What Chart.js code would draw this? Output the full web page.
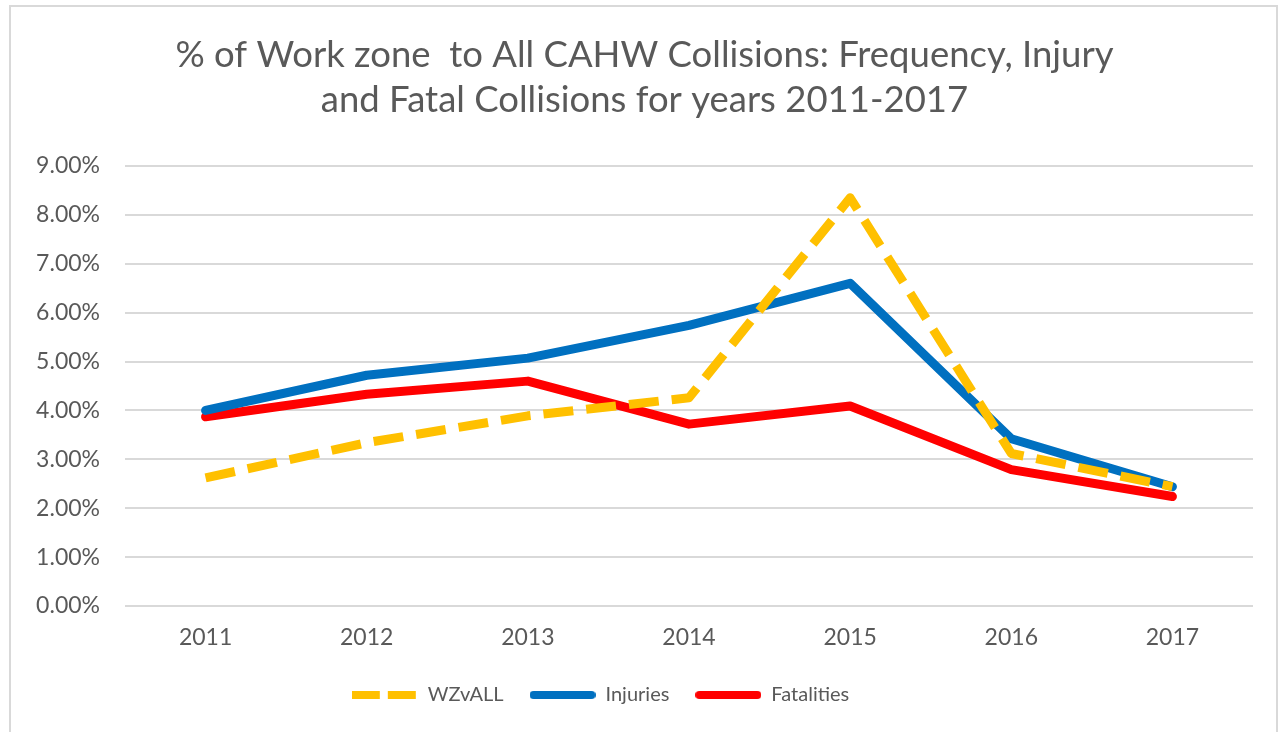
<!DOCTYPE html>
<html>
<head>
<meta charset="utf-8">
<script src="https://cdn.jsdelivr.net/npm/chart.js@4"></script>
<style>
  html, body { margin: 0; padding: 0; background: #fff; overflow: hidden; }
  #wrap { position: relative; width: 1278px; height: 732px; }
  #frame {
    position: absolute; left: 9px; top: 5px; width: 1269px; height: 760px;
    box-sizing: border-box; border: 2px solid #d9d9d9; border-bottom: none;
    pointer-events: none;
  }
</style>
</head>
<body>
<div id="wrap">
  <canvas id="chart" width="1278" height="732"></canvas>
  <div id="frame"></div>
</div>
<script>
const YEARS = ['2011', '2012', '2013', '2014', '2015', '2016', '2017'];
const WZ_V_ALL = [2.62, 3.34, 3.89, 4.26, 8.35, 3.12, 2.44];
const INJURIES = [4.0, 4.72, 5.07, 5.74, 6.6, 3.42, 2.44];
const FATALITIES = [3.87, 4.33, 4.6, 3.72, 4.09, 2.79, 2.24];
const Y_TICKS = [0, 1, 2, 3, 4, 5, 6, 7, 8, 9];

const TEXT = '#595959';
const FONT = 'Lato, "Open Sans", sans-serif';

// legend icons: short line swatches like the spreadsheet legend
function makeIcon(color, dashed) {
  const c = document.createElement('canvas');
  c.width = 66; c.height = 10;
  const g = c.getContext('2d');
  g.strokeStyle = color;
  g.lineWidth = 8;
  if (dashed) {
    g.lineCap = 'butt';
    g.setLineDash([28, 8]);
    g.beginPath(); g.moveTo(0, 5); g.lineTo(66, 5); g.stroke();
  } else {
    g.lineCap = 'round';
    g.beginPath(); g.moveTo(4, 5); g.lineTo(62, 5); g.stroke();
  }
  return c;
}

const SERIES = [
  { label: 'WZvALL', data: WZ_V_ALL, color: '#FFC000', dash: [30, 13] },
  { label: 'Injuries', data: INJURIES, color: '#0070C0', dash: [] },
  { label: 'Fatalities', data: FATALITIES, color: '#FF0000', dash: [] },
];

// nudge title right and legend left, like the original
const boxShift = {
  id: 'boxShift',
  afterLayout(chart) {
    chart.legend.left -= 26;
    chart.legend.right -= 26;
    chart.titleBlock.left += 18;
    chart.titleBlock.right += 18;
  },
};

new Chart(document.getElementById('chart'), {
  type: 'line',
  data: {
    labels: YEARS,
    datasets: SERIES.map(s => ({
      label: s.label,
      data: s.data,
      borderColor: s.color,
      backgroundColor: s.color,
      borderWidth: 9,
      borderDash: s.dash,
      borderCapStyle: s.dash.length ? 'butt' : 'round',
      borderJoinStyle: 'round',
      pointRadius: 0,
      tension: 0,
    })),
  },
  plugins: [boxShift],
  options: {
    responsive: false,
    animation: false,
    layout: { padding: { left: 0, right: 25, top: 0, bottom: 17 } },
    scales: {
      x: {
        offset: true,
        afterFit: s => { s.height = 53; },
        grid: { display: false, drawTicks: false },
        border: { display: false },
        ticks: { color: TEXT, font: { family: FONT, size: 23 }, padding: 18 },
      },
      y: {
        min: 0, max: 9,
        afterBuildTicks: s => { s.ticks = Y_TICKS.map(v => ({ value: v })); },
        afterFit: s => { s.width = 125; },
        grid: { color: '#d9d9d9', lineWidth: 2, drawTicks: false },
        border: { display: false },
        ticks: {
          color: TEXT, font: { family: FONT, size: 23 }, padding: 25,
          callback: v => v.toFixed(2) + '%',
        },
      },
    },
    plugins: {
      title: {
        display: true,
        text: ['% of Work zone  to All CAHW Collisions: Frequency, Injury', 'and Fatal Collisions for years 2011-2017'],
        color: TEXT,
        font: { family: FONT, size: 36.5, weight: 'normal', lineHeight: 1.233 },
        padding: { top: 33, bottom: 43 },
      },
      legend: {
        position: 'bottom',
        labels: {
          color: TEXT,
          font: { family: FONT, size: 20 },
          usePointStyle: true,
          pointStyleWidth: 66,
          boxHeight: 10,
          padding: 26,
          generateLabels: chart => SERIES.map((s, i) => ({
            text: s.label,
            fontColor: TEXT,
            pointStyle: makeIcon(s.color, s.dash.length > 0),
            datasetIndex: i,
            hidden: false,
            lineWidth: 0,
          })),
        },
      },
      tooltip: { enabled: false },
    },
  },
});
</script>
</body>
</html>
